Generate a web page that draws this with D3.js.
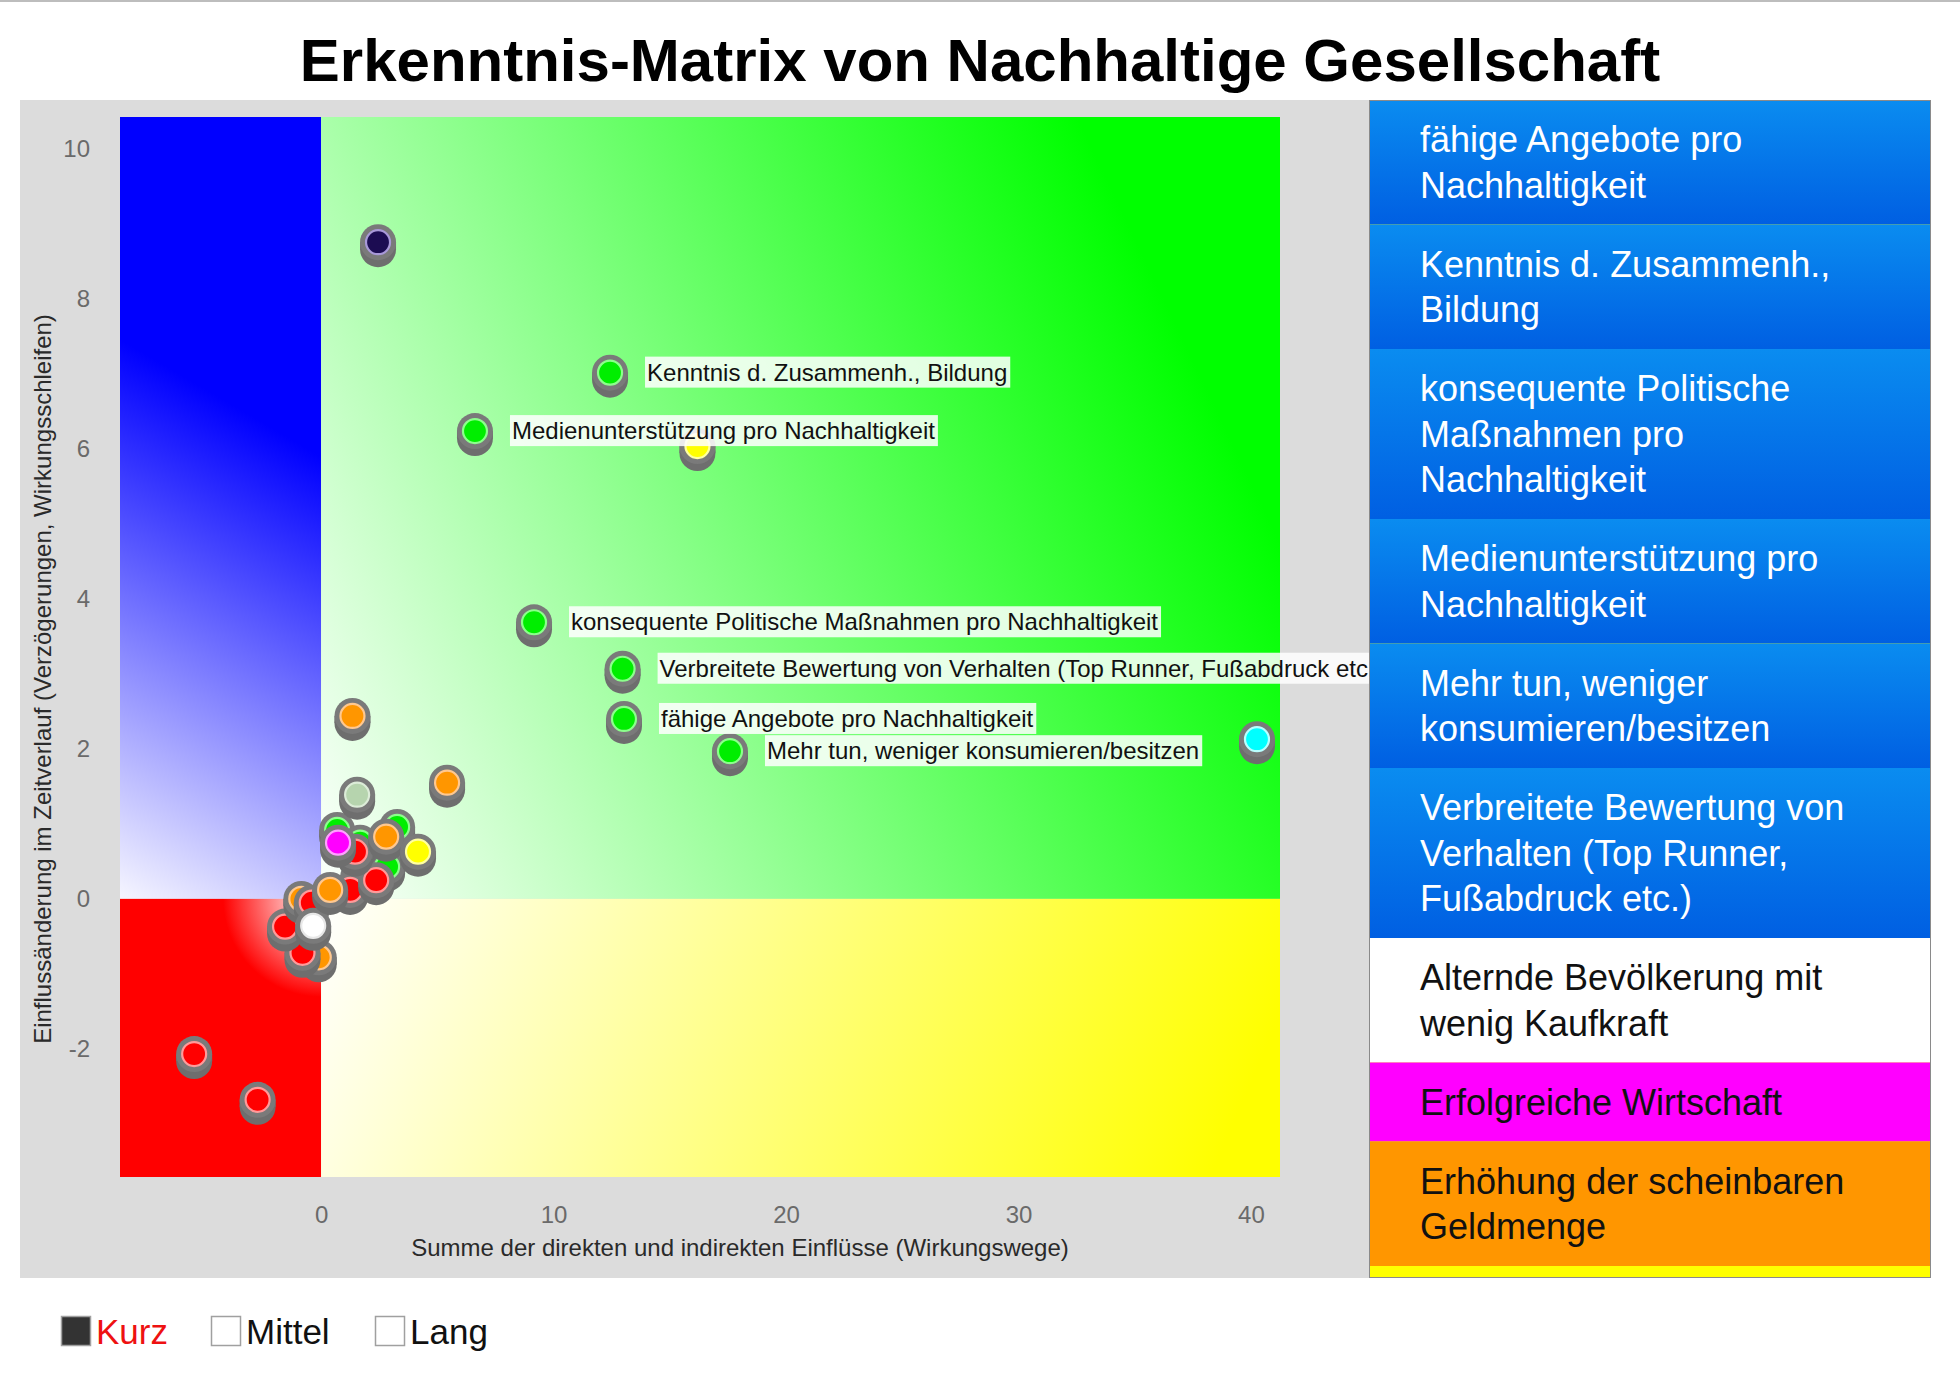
<!DOCTYPE html>
<html><head><meta charset="utf-8">
<script src="https://cdn.jsdelivr.net/npm/d3@7"></script>
<style>
body{margin:0;background:#fff;}
svg{display:block;font-family:"Liberation Sans",Arial,Helvetica,sans-serif;}
</style>
</head><body>
<svg id="chart" width="1960" height="1374"></svg>
<script>
// ---------- data ----------
const chartTitle = "Erkenntnis-Matrix von Nachhaltige Gesellschaft";
const xAxisTitle = "Summe der direkten und indirekten Einflüsse (Wirkungswege)";
const yAxisTitle = "Einflussänderung im Zeitverlauf (Verzögerungen, Wirkungsschleifen)";
const xTickValues = [0, 10, 20, 30, 40];
const yTickValues = [-2, 0, 2, 4, 6, 8, 10];
const xDomain = [-8.65, 41.25];
const yDomain = [-3.71, 10.43];

// points (drawing order: hidden ones first)
const pointX = [-0.1, -0.8, -1.55, -0.85, -0.4, -0.34, 1.6, 1.25, 0.39, 2.84, 2.37, 0.69, 1.68, 1.46, 0.73, 3.27, 2.8, 4.17, 1.55, 5.42, 1.35, -5.46, -2.73, 2.45, 40.26, 16.19, 12.43, 6.62, 9.16, 12.97, 13.03, 17.59];
const pointY = [-0.78, -0.72, -0.37, 0.0, -0.05, -0.36, 0.3, 0.12, 0.12, 0.43, 0.25, 0.92, 0.75, 0.63, 0.75, 0.96, 0.83, 0.63, 1.39, 1.55, 2.44, -2.07, -2.68, 8.76, 2.13, 6.04, 7.02, 6.24, 3.69, 3.07, 2.4, 1.97];
const pointKind = ["orange","red","red","orange","red","white","green","red","orange","green","red","green","green","red","magenta","green","orange","yellow","sage","orange","orange","red","red","navy","cyan","yellow","green","green","green","green","green","green"];
const pointLabel = ["","","","","","","","","","","","","","","","","","","","","","","","","","",
  "Kenntnis d. Zusammenh., Bildung",
  "Medienunterstützung pro Nachhaltigkeit",
  "konsequente Politische Maßnahmen pro Nachhaltigkeit",
  "Verbreitete Bewertung von Verhalten (Top Runner, Fußabdruck etc.)",
  "fähige Angebote pro Nachhaltigkeit",
  "Mehr tun, weniger konsumieren/besitzen"];

const kindNames  = ["green","orange","red","yellow","magenta","white","cyan","navy","sage","blue"];
const kindFill   = ["#00ee00","#ff9600","#ff0000","#ffff00","#ff00ff","#ffffff","#00ffff","#1c0c52","#b6d4ae","#0070e8"];
const kindRing   = ["#8cff8c","#ffc890","#ff9a9a","#ffffa0","#ffa0ff","#e8e8e8","#b8ffff","#a898d8","#dcecd8","#60a0ff"];

// right legend
const legendLines = [
  ["fähige Angebote pro","Nachhaltigkeit"],
  ["Kenntnis d. Zusammenh.,","Bildung"],
  ["konsequente Politische","Maßnahmen pro","Nachhaltigkeit"],
  ["Medienunterstützung pro","Nachhaltigkeit"],
  ["Mehr tun, weniger","konsumieren/besitzen"],
  ["Verbreitete Bewertung von","Verhalten (Top Runner,","Fußabdruck etc.)"],
  ["Alternde Bevölkerung mit","wenig Kaufkraft"],
  ["Erfolgreiche Wirtschaft"],
  ["Erhöhung der scheinbaren","Geldmenge"],
  [""]
];
const legendKind = ["blue","blue","blue","blue","blue","blue","white","magenta","orange","yellow"];

// bottom legend
const durationLabels = ["Kurz","Mittel","Lang"];

// ---------- drawing ----------
const svg = d3.select("#chart");
const fillOf = d3.scaleOrdinal().domain(kindNames).range(kindFill);
const ringOf = d3.scaleOrdinal().domain(kindNames).range(kindRing);

// top thin line
svg.append("rect").attr("x",0).attr("y",0).attr("width",1960).attr("height",2).attr("fill","#bdbdbd");

// title
svg.append("text").attr("x",980).attr("y",81).attr("text-anchor","middle")
  .attr("font-size",60).attr("font-weight","bold").attr("fill","#000").text(chartTitle);

// grey chart panel
svg.append("rect").attr("x",20).attr("y",100).attr("width",1349).attr("height",1178).attr("fill","#dcdcdc");

const plot = {left:120, right:1280, top:117, bottom:1177};
const xs = d3.scaleLinear().domain(xDomain).range([plot.left, plot.right]);
const ys = d3.scaleLinear().domain(yDomain).range([plot.bottom, plot.top]);
const ox = xs(0), oy = ys(0);

const defs = svg.append("defs");
const blue = defs.append("linearGradient").attr("id","gBlue").attr("x1",0.15).attr("y1",0).attr("x2",0).attr("y2",1);
blue.append("stop").attr("offset",0).attr("stop-color","#0000ff");
blue.append("stop").attr("offset",0.3).attr("stop-color","#0000ff");
blue.append("stop").attr("offset",1).attr("stop-color","#f6f6ff");

const green = defs.append("linearGradient").attr("id","gGreen").attr("gradientUnits","userSpaceOnUse")
  .attr("x1",ox).attr("y1",oy).attr("x2",ox+920).attr("y2",oy-438);
green.append("stop").attr("offset",0).attr("stop-color","#fbfffb");
green.append("stop").attr("offset",0.04).attr("stop-color","#f4fff4");
green.append("stop").attr("offset",1).attr("stop-color","#00ff00");

const red = defs.append("radialGradient").attr("id","gRed").attr("gradientUnits","userSpaceOnUse")
  .attr("cx",ox).attr("cy",oy).attr("r",98);
red.append("stop").attr("offset",0).attr("stop-color","#ffffff");
red.append("stop").attr("offset",0.05).attr("stop-color","#ffffff");
red.append("stop").attr("offset",1).attr("stop-color","#ff0000");

const yel = defs.append("linearGradient").attr("id","gYellow").attr("gradientUnits","userSpaceOnUse")
  .attr("x1",ox).attr("y1",oy).attr("x2",ox+850).attr("y2",oy+369);
yel.append("stop").attr("offset",0).attr("stop-color","#ffffff");
yel.append("stop").attr("offset",1).attr("stop-color","#ffff00");

const quads = [
  {x0:xDomain[0], x1:0, y0:0, y1:yDomain[1], f:"url(#gBlue)"},
  {x0:0, x1:xDomain[1], y0:0, y1:yDomain[1], f:"url(#gGreen)"},
  {x0:xDomain[0], x1:0, y0:yDomain[0], y1:0, f:"url(#gRed)"},
  {x0:0, x1:xDomain[1], y0:yDomain[0], y1:0, f:"url(#gYellow)"}
];
svg.append("g").selectAll("rect").data(quads).join("rect")
  .attr("x",d=>xs(d.x0)).attr("y",d=>ys(d.y1))
  .attr("width",d=>xs(d.x1)-xs(d.x0)).attr("height",d=>ys(d.y0)-ys(d.y1))
  .attr("fill",d=>d.f);

// axes (labels only)
const fmt = d => String(d);
const xAxis = d3.axisBottom(xs).tickValues(xTickValues).tickFormat(fmt).tickSize(0).tickPadding(0);
const gx = svg.append("g").attr("transform",`translate(0,${plot.bottom+29})`).call(xAxis);
gx.select(".domain").remove();
gx.selectAll("text").attr("font-size",24).attr("fill","#6a6a6a").attr("font-family","Liberation Sans, Arial, sans-serif");

const yAxis = d3.axisLeft(ys).tickValues(yTickValues).tickFormat(fmt).tickSize(0).tickPadding(0);
const gy = svg.append("g").attr("transform",`translate(90,0)`).call(yAxis);
gy.select(".domain").remove();
gy.selectAll("text").attr("font-size",24).attr("fill","#6a6a6a").attr("font-family","Liberation Sans, Arial, sans-serif");

svg.append("text").attr("x",740).attr("y",1256).attr("text-anchor","middle")
  .attr("font-size",24).attr("fill","#2a2a2a").text(xAxisTitle);
svg.append("text").attr("transform","translate(51,679) rotate(-90)").attr("text-anchor","middle")
  .attr("font-size",24).attr("fill","#2a2a2a").text(yAxisTitle);

// markers
const pts = pointX.map((x,i)=>({x, y:pointY[i], k:pointKind[i], label:pointLabel[i]}));
const mg = svg.append("g");
pts.forEach(p=>{
  const cx = xs(p.x), cy = ys(p.y);
  const g = mg.append("g");
  g.append("circle").attr("cx",cx).attr("cy",cy+7).attr("r",18).attr("fill","#6e6e6e");
  g.append("rect").attr("x",cx-18).attr("y",cy).attr("width",36).attr("height",7).attr("fill","#727272");
  g.append("circle").attr("cx",cx).attr("cy",cy).attr("r",18).attr("fill","#7a7a7a");
  g.append("circle").attr("cx",cx).attr("cy",cy).attr("r",12)
    .attr("fill",fillOf(p.k)).attr("stroke",ringOf(p.k)).attr("stroke-width",2.2);
});

// point labels
const lg = svg.append("g");
pts.filter(p=>p.label).forEach(p=>{
  const cx = xs(p.x), cy = ys(p.y);
  const t = lg.append("text").attr("x",cx+37).attr("y",cy+8).attr("font-size",24).attr("fill","#111").text(p.label);
  const w = t.node().getComputedTextLength();
  lg.insert("rect", () => t.node()).attr("x",cx+35).attr("y",cy-16).attr("width",w+5).attr("height",31)
    .attr("fill","#ffffff").attr("fill-opacity",0.86);
});

// right legend panel
const lp = {x:1369, y:100, w:562, h:1178};
defs.append("clipPath").attr("id","lpClip").append("rect").attr("x",lp.x).attr("y",lp.y).attr("width",lp.w).attr("height",lp.h);
const blueRow = defs.append("linearGradient").attr("id","gRow").attr("x1",0).attr("y1",0).attr("x2",0).attr("y2",1);
blueRow.append("stop").attr("offset",0).attr("stop-color","#0a8cf0");
blueRow.append("stop").attr("offset",1).attr("stop-color","#005fe2");
const legendBg = {blue:"url(#gRow)", white:"#ffffff", magenta:"#ff00ff", orange:"#ff9600", yellow:"#ffff00"};
const lineH = 45.5, pad = 33.5;
const lgp = svg.append("g").attr("clip-path","url(#lpClip)");
lgp.append("rect").attr("x",lp.x).attr("y",lp.y).attr("width",lp.w).attr("height",lp.h).attr("fill","#ffff00");
let yy = lp.y;
legendLines.forEach((lines,i)=>{
  const h = lines.length*lineH + pad;
  lgp.append("rect").attr("x",lp.x).attr("y",yy).attr("width",lp.w).attr("height",h).attr("fill",legendBg[legendKind[i]]);
  const col = legendKind[i]==="blue" ? "#ffffff" : "#111111";
  lines.forEach((ln,j)=>{
    lgp.append("text").attr("x",1420).attr("y",yy+pad/2+lineH*j+lineH/2+12.5)
      .attr("font-size",36).attr("fill",col).text(ln);
  });
  yy += h;
});
svg.append("rect").attr("x",lp.x+0.5).attr("y",lp.y+0.5).attr("width",lp.w-1).attr("height",lp.h-1)
  .attr("fill","none").attr("stroke","#8a8a8a").attr("stroke-width",1);

// bottom legend
const bl = svg.append("g");
const blX = [61, 211, 375];
const blFill = ["#333333","#ffffff","#ffffff"];
const blText = ["#ee1111","#111111","#111111"];
durationLabels.forEach((d,i)=>{
  bl.append("rect").attr("x",blX[i]+0.5).attr("y",1316.5).attr("width",29).attr("height",29)
    .attr("fill",blFill[i]).attr("stroke","#a0a0a0").attr("stroke-width",1.5);
  bl.append("text").attr("x",blX[i]+35).attr("y",1344).attr("font-size",35).attr("fill",blText[i]).text(d);
});
</script>
</body></html>
